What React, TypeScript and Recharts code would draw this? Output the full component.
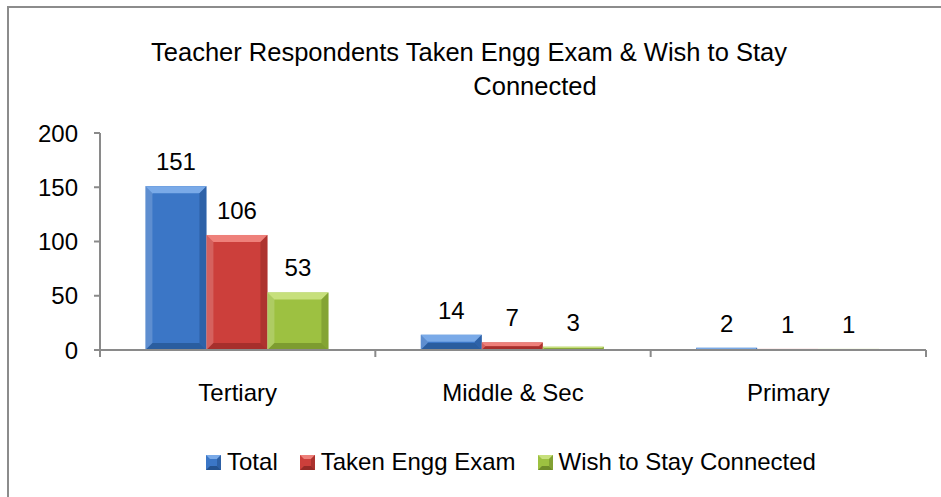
import React from 'react';
import { BarChart, Bar, XAxis, YAxis, LabelList } from 'recharts';

const categories = ['Tertiary', 'Middle & Sec', 'Primary'];
const totalValues = [151, 14, 2];
const takenEnggValues = [106, 7, 1];
const wishConnectedValues = [53, 3, 1];
const yTicks = [0, 50, 100, 150, 200];
const seriesNames = ['Total', 'Taken Engg Exam', 'Wish to Stay Connected'];
const seriesKeys = ['total', 'taken', 'wish'];
const titleLines = ['Teacher Respondents Taken Engg Exam & Wish to Stay', 'Connected'];

const data = categories.map((c, i) => ({
  category: c,
  total: totalValues[i],
  taken: takenEnggValues[i],
  wish: wishConnectedValues[i],
}));

const palette = [
  { base: '#3b76c6', light: '#7aaae8', dark: '#24528f' },
  { base: '#cc3f3b', light: '#ee807a', dark: '#952a27' },
  { base: '#9dc141', light: '#c7e07c', dark: '#6f8c2a' },
];

const FONT = "'Liberation Sans', Arial, sans-serif";
const AXIS = '#8a8a8a';
const X_TICK_MARGIN = 34;

const makeBevel = (p: { base: string; light: string; dark: string }) => (props: any) => {
  const { x, y, width, height } = props;
  if (!(width > 0) || !(height > 0)) return <g />;
  const b = Math.min(7, width / 4, height / 2);
  const x2 = x + width;
  const y2 = y + height;
  return (
    <g>
      <rect x={x} y={y} width={width} height={height} fill={p.base} />
      <polygon points={`${x},${y} ${x2},${y} ${x2 - b},${y + b} ${x + b},${y + b}`} fill={p.light} />
      <polygon points={`${x},${y} ${x + b},${y + b} ${x + b},${y2 - b} ${x},${y2}`} fill="#ffffff" fillOpacity={0.18} />
      <polygon points={`${x2},${y} ${x2 - b},${y + b} ${x2 - b},${y2 - b} ${x2},${y2}`} fill={p.dark} fillOpacity={0.55} />
      <polygon points={`${x},${y2} ${x + b},${y2 - b} ${x2 - b},${y2 - b} ${x2},${y2}`} fill={p.dark} fillOpacity={0.7} />
    </g>
  );
};

const CategoryTick = (props: any) => {
  const { x, y, payload, index } = props;
  const half = payload && typeof payload.offset === 'number' && payload.offset > 0 ? payload.offset : 137.7;
  const axisY = y - X_TICK_MARGIN;
  return (
    <g>
      <line x1={x - half} x2={x - half} y1={axisY} y2={axisY + 7} stroke={AXIS} strokeWidth={2} />
      {index === categories.length - 1 && (
        <line x1={x + half} x2={x + half} y1={axisY} y2={axisY + 7} stroke={AXIS} strokeWidth={2} />
      )}
      <text x={x} y={y} dy="0.71em" textAnchor="middle" fontSize={24} fontFamily={FONT} fill="#000">
        {payload.value}
      </text>
    </g>
  );
};

const LegendIcon = ({ p }: { p: { base: string; light: string; dark: string } }) => (
  <svg width={15} height={15} style={{ display: 'block' }}>
    <rect x={0} y={0} width={15} height={15} fill={p.base} />
    <polygon points="0,0 15,0 11,4 4,4" fill={p.light} />
    <polygon points="0,15 4,11 11,11 15,15" fill={p.dark} />
    <polygon points="15,0 11,4 11,11 15,15" fill={p.dark} fillOpacity={0.6} />
  </svg>
);

export default function App() {
  return (
    <div style={{ position: 'absolute', left: 0, top: 0, width: 941, height: 497, background: '#fff', overflow: 'hidden', fontFamily: FONT }}>
      <div style={{ position: 'absolute', left: 7, top: 6, width: 1000, height: 600, borderTop: '2px solid #8c8c8c', borderLeft: '2px solid #8c8c8c' }} />
      <div style={{ position: 'absolute', left: 0, top: 35, width: 938, textAlign: 'center', fontSize: 25.5, lineHeight: '34px', color: '#000', whiteSpace: 'nowrap' }}>
        {titleLines[0]}
      </div>
      <div style={{ position: 'absolute', left: 0, top: 69, width: 1070, textAlign: 'center', fontSize: 25.5, lineHeight: '34px', color: '#000', whiteSpace: 'nowrap' }}>
        {titleLines[1]}
      </div>
      <div style={{ position: 'absolute', left: 0, top: 0 }}>
        <BarChart
          width={941}
          height={497}
          data={data}
          margin={{ top: 133, right: 15, bottom: 117, left: 8 }}
          barCategoryGap="16.5%"
          barGap={0}
        >
          <XAxis
            dataKey="category"
            height={30}
            axisLine={{ stroke: AXIS, strokeWidth: 2 }}
            tickLine={false}
            tickSize={0}
            tickMargin={X_TICK_MARGIN}
            tick={<CategoryTick />}
            interval={0}
          />
          <YAxis
            width={92}
            domain={[0, 200]}
            ticks={yTicks}
            axisLine={{ stroke: AXIS, strokeWidth: 2 }}
            tickLine={{ stroke: AXIS, strokeWidth: 2 }}
            tickSize={6}
            tickMargin={16}
            tick={{ fontSize: 24, fill: '#000', fontFamily: FONT }}
            allowDecimals={false}
          />
          {seriesKeys.map((k, i) => (
            <Bar key={k} dataKey={k} name={seriesNames[i]} fill={palette[i].base} shape={makeBevel(palette[i])} isAnimationActive={false}>
              <LabelList dataKey={k} position="top" offset={16} fontSize={24} fill="#000" fontFamily={FONT} />
            </Bar>
          ))}
        </BarChart>
      </div>
      <div style={{ position: 'absolute', left: 0, top: 447, width: 1022, display: 'flex', justifyContent: 'center', alignItems: 'center', gap: 22, fontSize: 24, lineHeight: '30px', color: '#000', whiteSpace: 'nowrap' }}>
        {seriesNames.map((n, i) => (
          <div key={n} style={{ display: 'flex', alignItems: 'center' }}>
            <LegendIcon p={palette[i]} />
            <span style={{ marginLeft: 6 }}>{n}</span>
          </div>
        ))}
      </div>
    </div>
  );
}
